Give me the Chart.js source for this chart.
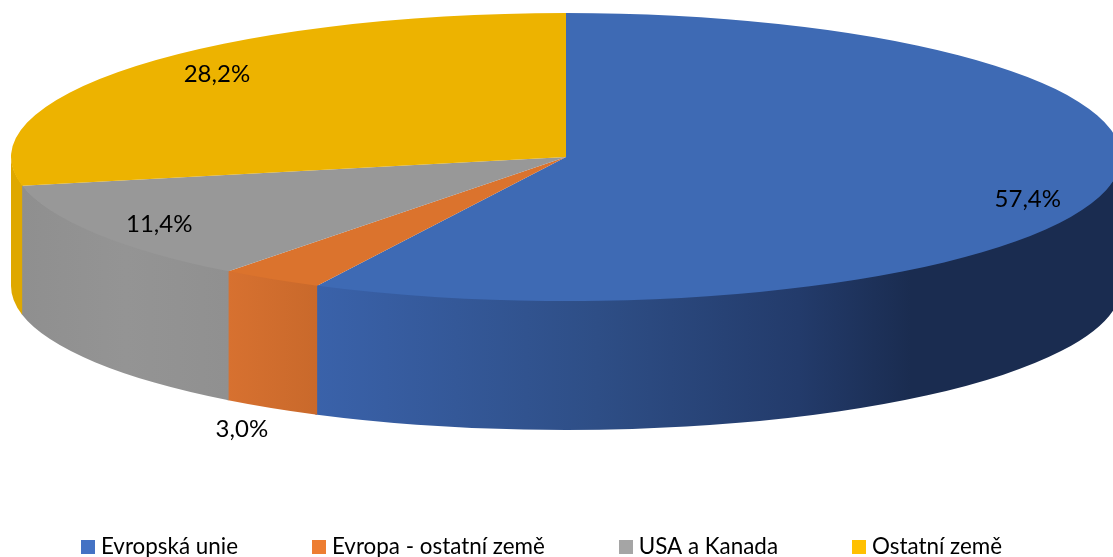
<!DOCTYPE html>
<html><head><meta charset="utf-8">
<style>html,body{margin:0;padding:0;background:#fff;overflow:hidden}canvas{display:block}</style>
<script src="https://cdn.jsdelivr.net/npm/chart.js@4"></script>
</head><body><canvas id="c" width="1113" height="557"></canvas>
<script>
const categories = ['Evropská unie','Evropa - ostatní země','USA a Kanada','Ostatní země'];
const shares = [57.4,3.0,11.4,28.2];
const valueLabels = ['57,4%','3,0%','11,4%','28,2%'];
const topColors = ['#3e6ab4','#db732d','#989898','#edb300'];
const legendColors = ['#4472c4','#ed7d31','#a5a5a5','#ffc000'];
const wallStops = [
  [[0.0,'#3a62aa'],[0.35,'#2e4e86'],[0.6,'#233b6b'],[0.74,'#1a2c50'],[1,'#1a2c50']],
  [[0,'#d77130'],[1,'#c9692b']],
  [[0,'#8f8f8f'],[0.5,'#949494'],[1,'#909090']],
  [[0,'#dfa800'],[1,'#dfa800']]
];
const labelPos = [[0.832,0.292],[-0.584,1.889],[-0.733,0.465],[-0.629,-0.576]];
const FONT = 'Lato';
const CX=566, CY=157, RY=144, RX=555, DEPTH=129, SEAM=0.004;
const LEG_FONT=22.4, LEG_PAD=79.3, LEG_CENTER=547, LEG_LEFT=6.95, LEG_BOX=3.5;

function swatch(color){
  const s=document.createElement('canvas');s.width=14;s.height=14;
  const g=s.getContext('2d');g.fillStyle=color;g.fillRect(0,0,14,14);return s;
}
const swatches=legendColors.map(swatch);

const pie3d={
  id:'pie3d',
  afterLayout(chart){
    chart.chartArea={left:CX-RY,right:CX+RY,top:CY-RY,bottom:CY+RY,width:2*RY,height:2*RY};
    const l=chart.legend;
    l.top=LEG_CENTER-LEG_FONT/2-LEG_PAD; l.left=LEG_LEFT; l.right=1113;
  },
  beforeDatasetsDraw(chart){
    const ctx=chart.ctx, arcs=chart.getDatasetMeta(0).data;
    const sx=RX/RY;
    arcs.forEach((arc,i)=>{
      const a0=Math.max(arc.startAngle,0), a1=Math.min(arc.endAngle+SEAM,Math.PI);
      if(a1<=a0) return;
      const rx=arc.outerRadius*sx, ry=arc.outerRadius;
      const x0=arc.x+Math.cos(a0)*rx, x1=arc.x+Math.cos(a1)*rx;
      const g=ctx.createLinearGradient(Math.min(x0,x1),0,Math.max(x0,x1),0);
      wallStops[i].forEach(s=>g.addColorStop(s[0],s[1]));
      ctx.save();
      ctx.beginPath();
      ctx.ellipse(arc.x,arc.y-1,rx,ry,0,a0,a1);
      ctx.ellipse(arc.x,arc.y+DEPTH,rx,ry,0,a1,a0,true);
      ctx.closePath();
      ctx.fillStyle=g;ctx.fill();
      ctx.restore();
    });
    ctx.save();
    ctx.translate(CX,0);ctx.scale(sx,1);ctx.translate(-CX,0);
  },
  afterDatasetsDraw(chart){
    const ctx=chart.ctx;
    ctx.restore();
    const arc0=chart.getDatasetMeta(0).data[0];
    const rx=arc0.outerRadius*RX/RY, ry=arc0.outerRadius;
    ctx.save();
    ctx.font='24px '+FONT;ctx.fillStyle='#000';ctx.textAlign='center';ctx.textBaseline='middle';
    valueLabels.forEach((t,i)=>ctx.fillText(t,arc0.x+labelPos[i][0]*rx,arc0.y+labelPos[i][1]*ry));
    ctx.restore();
  }
};

new Chart(document.getElementById('c'),{
  type:'pie',
  data:{labels:categories,datasets:[{data:shares,backgroundColor:topColors,borderWidth:0,clip:false}]},
  plugins:[pie3d],
  options:{
    responsive:false,animation:false,
    plugins:{
      tooltip:{enabled:false},
      legend:{position:'bottom',align:'start',
        labels:{
          font:{family:FONT,size:LEG_FONT},color:'#000',padding:LEG_PAD,
          usePointStyle:true,pointStyleWidth:LEG_BOX,
          generateLabels(chart){
            return categories.map((t,i)=>({text:t,pointStyle:swatches[i],fillStyle:legendColors[i],strokeStyle:'transparent',lineWidth:0,index:i,hidden:false}));
          }
        }}
    }
  }
});
</script></body></html>
